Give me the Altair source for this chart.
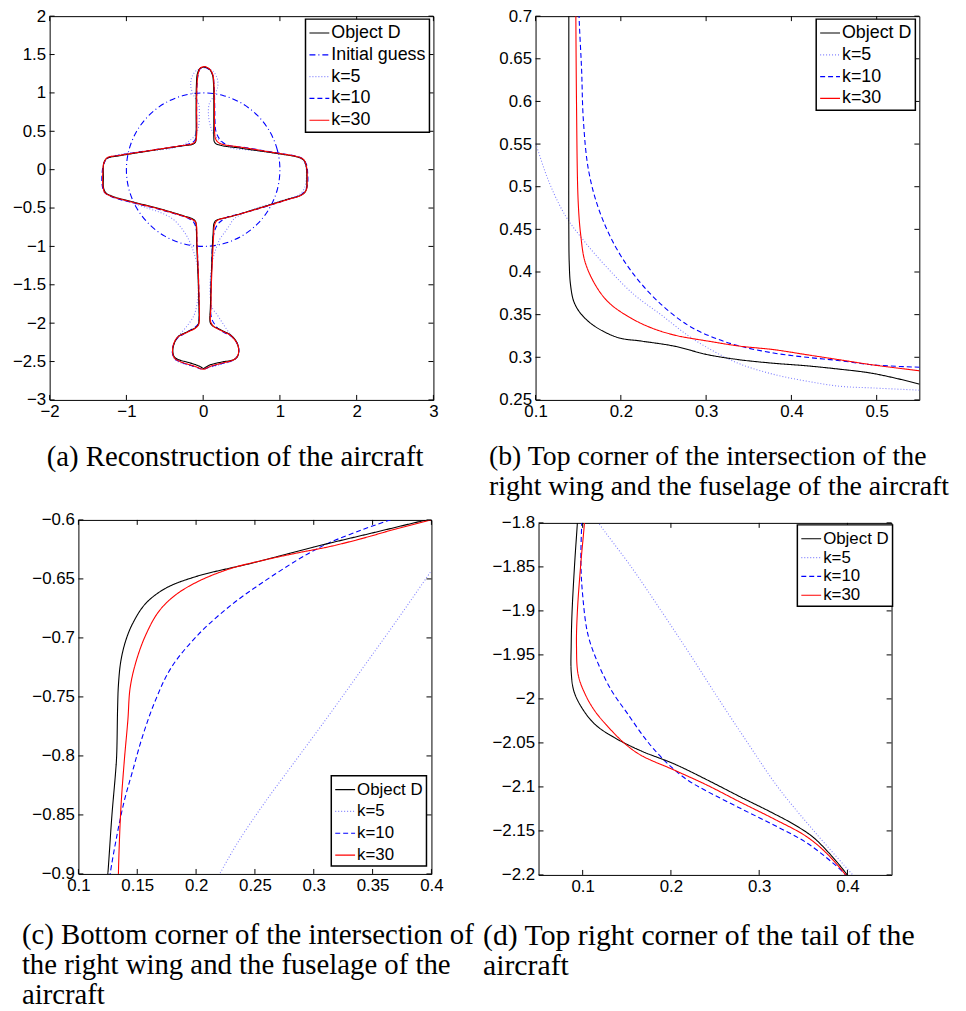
import altair as alt
import pandas as pd

# ---------------- (a) whole aircraft ----------------
A_OBJECT_D = [[0.02,1.34],[0.08,1.31],[0.12,1.24],[0.135,1.12],[0.139,0.9],[0.139,0.6],[0.139,0.42],[0.145,0.365],[0.17,0.336],[0.22,0.319],[0.3,0.303],[0.45,0.286],[0.55,0.27],[0.8,0.235],[1.0,0.205],[1.2,0.172],[1.26,0.155],[1.31,0.125],[1.337,0.066],[1.348,0.0],[1.35,-0.15],[1.345,-0.257],[1.295,-0.322],[1.1,-0.385],[0.9,-0.448],[0.65,-0.525],[0.4,-0.6],[0.26,-0.634],[0.2,-0.648],[0.16,-0.668],[0.14,-0.705],[0.134,-0.75],[0.13,-0.83],[0.125,-0.9],[0.11,-1.3],[0.1,-1.6],[0.094,-1.8],[0.087,-1.95],[0.095,-2.0],[0.13,-2.04],[0.2,-2.073],[0.28,-2.113],[0.34,-2.142],[0.38,-2.175],[0.42,-2.22],[0.45,-2.28],[0.463,-2.36],[0.45,-2.43],[0.4,-2.475],[0.25,-2.505],[0.1,-2.54],[0.03,-2.575],[0.003,-2.59],[-0.03,-2.57],[-0.1,-2.54],[-0.2,-2.51],[-0.32,-2.475],[-0.375,-2.44],[-0.394,-2.38],[-0.385,-2.29],[-0.33,-2.18],[-0.2,-2.11],[-0.1,-2.06],[-0.065,-2.02],[-0.055,-1.97],[-0.06,-1.6],[-0.07,-1.3],[-0.085,-0.95],[-0.09,-0.73],[-0.1,-0.675],[-0.13,-0.645],[-0.26,-0.6],[-0.6,-0.5],[-0.9,-0.425],[-1.2,-0.34],[-1.27,-0.3],[-1.298,-0.235],[-1.3,-0.1],[-1.298,0.066],[-1.28,0.12],[-1.247,0.152],[-1.1,0.18],[-0.7,0.245],[-0.3,0.307],[-0.13,0.333],[-0.1,0.36],[-0.092,0.45],[-0.092,0.8],[-0.088,1.1],[-0.075,1.25],[-0.04,1.32],[0.02,1.34]]
A_K30 = [[0.02,1.345],[0.085,1.31],[0.125,1.24],[0.14,1.12],[0.146,0.9],[0.148,0.6],[0.15,0.48],[0.158,0.412],[0.185,0.365],[0.232,0.336],[0.3,0.319],[0.42,0.303],[0.55,0.284],[0.8,0.242],[1.0,0.21],[1.2,0.176],[1.27,0.155],[1.315,0.125],[1.34,0.066],[1.352,0.0],[1.355,-0.15],[1.345,-0.26],[1.29,-0.325],[1.1,-0.39],[0.9,-0.452],[0.65,-0.528],[0.4,-0.6],[0.31,-0.622],[0.23,-0.641],[0.18,-0.664],[0.157,-0.698],[0.144,-0.742],[0.139,-0.804],[0.134,-0.9],[0.115,-1.3],[0.104,-1.6],[0.102,-1.8],[0.094,-1.9],[0.095,-1.973],[0.114,-2.014],[0.148,-2.051],[0.204,-2.081],[0.278,-2.117],[0.353,-2.156],[0.398,-2.2],[0.44,-2.26],[0.462,-2.33],[0.455,-2.41],[0.41,-2.47],[0.25,-2.52],[0.1,-2.56],[0.0,-2.6],[-0.1,-2.565],[-0.3,-2.5],[-0.37,-2.46],[-0.397,-2.39],[-0.39,-2.29],[-0.34,-2.19],[-0.2,-2.115],[-0.1,-2.065],[-0.06,-2.02],[-0.05,-1.97],[-0.055,-1.6],[-0.065,-1.3],[-0.08,-0.95],[-0.085,-0.74],[-0.1,-0.68],[-0.14,-0.65],[-0.26,-0.605],[-0.6,-0.505],[-0.9,-0.43],[-1.2,-0.345],[-1.28,-0.3],[-1.305,-0.22],[-1.305,0.0],[-1.295,0.08],[-1.25,0.155],[-1.1,0.185],[-0.7,0.248],[-0.3,0.31],[-0.15,0.335],[-0.1,0.37],[-0.085,0.45],[-0.085,0.8],[-0.08,1.1],[-0.065,1.25],[-0.035,1.325],[0.02,1.345]]
A_K10 = [[0.02,1.335],[0.085,1.3],[0.125,1.23],[0.142,1.1],[0.151,0.8],[0.154,0.637],[0.162,0.52],[0.193,0.431],[0.244,0.365],[0.309,0.323],[0.418,0.3],[0.55,0.288],[0.8,0.245],[1.0,0.212],[1.2,0.178],[1.29,0.145],[1.345,0.07],[1.362,-0.05],[1.358,-0.2],[1.32,-0.29],[1.25,-0.34],[1.1,-0.39],[0.9,-0.455],[0.65,-0.53],[0.42,-0.59],[0.342,-0.608],[0.3,-0.626],[0.258,-0.652],[0.202,-0.697],[0.165,-0.754],[0.146,-0.813],[0.127,-0.9],[0.11,-1.3],[0.1,-1.6],[0.099,-1.8],[0.1,-1.882],[0.118,-1.961],[0.151,-2.017],[0.2,-2.077],[0.241,-2.105],[0.316,-2.143],[0.383,-2.186],[0.44,-2.26],[0.465,-2.34],[0.452,-2.42],[0.4,-2.48],[0.25,-2.525],[0.1,-2.565],[0.0,-2.6],[-0.1,-2.57],[-0.3,-2.505],[-0.37,-2.46],[-0.4,-2.39],[-0.39,-2.29],[-0.34,-2.2],[-0.22,-2.12],[-0.1,-2.05],[-0.06,-2.0],[-0.05,-1.9],[-0.055,-1.6],[-0.065,-1.3],[-0.08,-0.95],[-0.09,-0.78],[-0.12,-0.69],[-0.2,-0.63],[-0.35,-0.58],[-0.6,-0.51],[-0.9,-0.435],[-1.2,-0.35],[-1.29,-0.29],[-1.318,-0.18],[-1.312,0.0],[-1.29,0.09],[-1.23,0.16],[-1.1,0.188],[-0.7,0.25],[-0.35,0.3],[-0.2,0.33],[-0.11,0.38],[-0.09,0.5],[-0.085,0.8],[-0.08,1.1],[-0.065,1.24],[-0.035,1.32],[0.02,1.335]]
A_K5 = [[0.02,1.33],[0.12,1.29],[0.18,1.2],[0.19,1.08],[0.14,0.96],[0.08,0.86],[0.07,0.7],[0.1,0.551],[0.135,0.466],[0.185,0.404],[0.247,0.35],[0.309,0.307],[0.379,0.28],[0.457,0.266],[0.55,0.261],[0.8,0.235],[1.0,0.21],[1.2,0.175],[1.29,0.13],[1.335,0.05],[1.345,-0.1],[1.32,-0.24],[1.26,-0.32],[1.1,-0.38],[0.9,-0.44],[0.7,-0.5],[0.55,-0.56],[0.4,-0.643],[0.342,-0.728],[0.286,-0.81],[0.22,-0.9],[0.16,-1.05],[0.12,-1.2],[0.095,-1.4],[0.09,-1.6],[0.1,-1.72],[0.118,-1.8],[0.189,-1.9],[0.254,-2.0],[0.321,-2.1],[0.406,-2.2],[0.45,-2.27],[0.465,-2.35],[0.45,-2.43],[0.4,-2.48],[0.25,-2.53],[0.1,-2.57],[0.0,-2.59],[-0.1,-2.57],[-0.25,-2.53],[-0.36,-2.48],[-0.4,-2.4],[-0.39,-2.3],[-0.33,-2.18],[-0.22,-2.05],[-0.12,-1.9],[-0.08,-1.75],[-0.065,-1.6],[-0.07,-1.3],[-0.1,-1.15],[-0.15,-1.0],[-0.21,-0.87],[-0.3,-0.74],[-0.4,-0.64],[-0.55,-0.56],[-0.7,-0.51],[-0.9,-0.44],[-1.1,-0.38],[-1.25,-0.32],[-1.3,-0.24],[-1.31,-0.1],[-1.3,0.05],[-1.26,0.13],[-1.18,0.175],[-1.0,0.21],[-0.8,0.235],[-0.55,0.26],[-0.4,0.28],[-0.25,0.33],[-0.15,0.4],[-0.09,0.47],[-0.06,0.56],[-0.05,0.7],[-0.06,0.86],[-0.12,0.96],[-0.16,1.08],[-0.15,1.2],[-0.09,1.29],[0.02,1.33]]
A_INITIAL = [[1.0,0.0],[0.966,0.259],[0.866,0.5],[0.707,0.707],[0.5,0.866],[0.259,0.966],[0.0,1.0],[-0.259,0.966],[-0.5,0.866],[-0.707,0.707],[-0.866,0.5],[-0.966,0.259],[-1.0,0.0],[-0.966,-0.259],[-0.866,-0.5],[-0.707,-0.707],[-0.5,-0.866],[-0.259,-0.966],[0.0,-1.0],[0.259,-0.966],[0.5,-0.866],[0.707,-0.707],[0.866,-0.5],[0.966,-0.259]]
A_XTICKS = [-2, -1, 0, 1, 2, 3]
A_YTICKS = [-3, -2.5, -2, -1.5, -1, -0.5, 0, 0.5, 1, 1.5, 2]

# ---------------- (b) top wing/fuselage corner ----------------
B_OBJECT_D = [[0.139,0.75],[0.139,0.6],[0.139,0.45],[0.1395,0.41],[0.141,0.385],[0.145,0.365],[0.154,0.35],[0.17,0.336],[0.197,0.323],[0.224,0.319],[0.263,0.313],[0.302,0.303],[0.34,0.297],[0.379,0.293],[0.418,0.29],[0.457,0.286],[0.49,0.282],[0.52,0.276],[0.56,0.266]]
B_K30 = [[0.147,0.75],[0.148,0.6],[0.15,0.482],[0.153,0.443],[0.158,0.412],[0.17,0.385],[0.185,0.365],[0.205,0.35],[0.232,0.336],[0.263,0.326],[0.302,0.319],[0.34,0.313],[0.379,0.309],[0.418,0.303],[0.457,0.297],[0.496,0.291],[0.56,0.283]]
B_K10 = [[0.15,0.75],[0.151,0.7],[0.154,0.637],[0.156,0.579],[0.162,0.52],[0.174,0.474],[0.193,0.431],[0.216,0.396],[0.244,0.365],[0.278,0.338],[0.309,0.323],[0.34,0.313],[0.379,0.305],[0.418,0.3],[0.457,0.296],[0.496,0.291],[0.56,0.288]]
B_K5 = [[0.09,0.58],[0.1,0.551],[0.116,0.505],[0.135,0.466],[0.158,0.435],[0.185,0.404],[0.216,0.373],[0.247,0.35],[0.278,0.326],[0.309,0.307],[0.34,0.292],[0.379,0.28],[0.418,0.272],[0.457,0.266],[0.496,0.264],[0.56,0.261]]
B_XTICKS = [0.1, 0.2, 0.3, 0.4, 0.5]
B_YTICKS = [0.25, 0.3, 0.35, 0.4, 0.45, 0.5, 0.55, 0.6, 0.65, 0.7]

# ---------------- (c) bottom wing/fuselage corner ----------------
C_OBJECT_D = [[0.124,-0.91],[0.125,-0.9],[0.1285,-0.85],[0.1315,-0.815],[0.1325,-0.8],[0.1333,-0.76],[0.134,-0.74],[0.136,-0.72],[0.14,-0.703],[0.146,-0.688],[0.157,-0.671],[0.174,-0.658],[0.2,-0.648],[0.25,-0.636],[0.3,-0.623],[0.35,-0.611],[0.396,-0.6],[0.41,-0.597]]
C_K30 = [[0.134,-0.91],[0.134,-0.9],[0.136,-0.846],[0.139,-0.804],[0.142,-0.77],[0.144,-0.742],[0.149,-0.72],[0.157,-0.698],[0.168,-0.678],[0.182,-0.664],[0.202,-0.652],[0.23,-0.641],[0.258,-0.634],[0.286,-0.628],[0.314,-0.6225],[0.342,-0.6155],[0.37,-0.6076],[0.4,-0.6]]
C_K10 = [[0.126,-0.91],[0.127,-0.9],[0.133,-0.866],[0.139,-0.838],[0.146,-0.813],[0.154,-0.785],[0.165,-0.754],[0.179,-0.725],[0.202,-0.697],[0.23,-0.672],[0.258,-0.652],[0.286,-0.634],[0.3,-0.626],[0.314,-0.619],[0.342,-0.608],[0.365,-0.6],[0.38,-0.595]]
C_K5 = [[0.214,-0.91],[0.22,-0.9],[0.235,-0.874],[0.258,-0.84],[0.286,-0.802],[0.314,-0.764],[0.342,-0.725],[0.37,-0.686],[0.4,-0.643]]
C_XTICKS = [0.1, 0.15, 0.2, 0.25, 0.3, 0.35, 0.4]
C_YTICKS = [-0.9, -0.85, -0.8, -0.75, -0.7, -0.65, -0.6]

# ---------------- (d) top right corner of the tail ----------------
D_OBJECT_D = [[0.095,-1.78],[0.094,-1.8],[0.091,-1.845],[0.088,-1.901],[0.087,-1.939],[0.087,-1.969],[0.09,-1.991],[0.099,-2.01],[0.114,-2.029],[0.136,-2.044],[0.166,-2.059],[0.204,-2.074],[0.241,-2.092],[0.278,-2.111],[0.316,-2.13],[0.34,-2.143],[0.361,-2.157],[0.379,-2.175],[0.392,-2.19],[0.402,-2.203],[0.41,-2.215]]
D_K30 = [[0.103,-1.78],[0.102,-1.8],[0.098,-1.845],[0.094,-1.901],[0.093,-1.939],[0.095,-1.973],[0.103,-1.995],[0.114,-2.014],[0.129,-2.032],[0.148,-2.051],[0.166,-2.064],[0.204,-2.081],[0.241,-2.098],[0.278,-2.117],[0.316,-2.136],[0.353,-2.156],[0.376,-2.175],[0.398,-2.2],[0.405,-2.21]]
D_K10 = [[0.1,-1.78],[0.099,-1.8],[0.098,-1.845],[0.1,-1.882],[0.106,-1.927],[0.118,-1.961],[0.133,-1.991],[0.151,-2.017],[0.17,-2.044],[0.185,-2.062],[0.2,-2.077],[0.22,-2.093],[0.241,-2.105],[0.278,-2.124],[0.316,-2.143],[0.353,-2.163],[0.383,-2.186],[0.398,-2.2],[0.405,-2.21]]
D_K5 = [[0.112,-1.79],[0.118,-1.8],[0.155,-1.85],[0.189,-1.9],[0.222,-1.95],[0.254,-2.0],[0.287,-2.05],[0.321,-2.1],[0.362,-2.15],[0.406,-2.2],[0.415,-2.21]]
D_XTICKS = [0.1, 0.2, 0.3, 0.4]
D_YTICKS = [-2.2, -2.15, -2.1, -2.05, -2.0, -1.95, -1.9, -1.85, -1.8]

CAPTION_A = ["(a) Reconstruction of the aircraft"]
CAPTION_B = ["(b) Top corner of the intersection of the", "right wing and the fuselage of the aircraft"]
CAPTION_C = ["(c) Bottom corner of the intersection of", "the right wing and the fuselage of the", "aircraft"]
CAPTION_D = ["(d) Top right corner of the tail of the", "aircraft"]

# ---------------- styles ----------------
COLOR = {"Object D": "#000000", "Initial guess": "#0000ff", "k=5": "#8080ff", "k=10": "#0000ff", "k=30": "#ff0000"}
DASH = {"Object D": [1, 0], "Initial guess": [6, 3, 1, 3], "k=5": [1, 2], "k=10": [5, 3], "k=30": [1, 0]}
SANS = "Liberation Sans"
SERIF = "Liberation Serif"
TICK = 5


def to_df(name, pts):
    return pd.DataFrame({"series": name, "i": list(range(len(pts))),
                         "x": [p[0] for p in pts], "y": [p[1] for p in pts]})


def panel(curves, order, xdom, ydom, xticks, yticks, w, h, lx, ly, lfs, rowpad,
          caption, cap_dx, cap_off, cap_size, closed=None):
    def X():
        return alt.X("x:Q", title=None,
                     scale=alt.Scale(domain=xdom, nice=False, zero=False),
                     axis=alt.Axis(values=xticks, format="~g", ticks=False, domain=False, grid=False,
                                   labelPadding=4, labelFontSize=17, labelFont=SANS, labelColor="black",
                                   labelFlush=False, labelOverlap=False))

    def Y():
        return alt.Y("y:Q", title=None,
                     scale=alt.Scale(domain=ydom, nice=False, zero=False),
                     axis=alt.Axis(values=yticks, format="~g", ticks=False, domain=False, grid=False,
                                   labelPadding=4, labelFontSize=17, labelFont=SANS, labelColor="black",
                                   labelFlush=False, labelOverlap=False))

    leg = alt.Legend(title=None, orient="none", legendX=lx, legendY=ly, labelFontSize=lfs,
                     labelFont=SANS, labelColor="black", symbolType="stroke", symbolSize=400,
                     symbolStrokeWidth=1.2, labelOffset=1, padding=3, rowPadding=rowpad,
                     fillColor="white", strokeColor="black")
    color = alt.Color("series:N", scale=alt.Scale(domain=order, range=[COLOR[s] for s in order]), legend=leg)
    dash = alt.StrokeDash("series:N", scale=alt.Scale(domain=order, range=[DASH[s] for s in order]), legend=leg)

    layers = []
    if closed is not None:
        name, pts = closed
        layers.append(alt.Chart(to_df(name, pts)).mark_line(
            clip=True, interpolate="cardinal-closed", strokeWidth=1.1).encode(
            x=X(), y=Y(), color=color, strokeDash=dash, order="i:Q"))
    for name, pts in curves:
        layers.append(alt.Chart(to_df(name, pts)).mark_line(
            clip=True, interpolate="catmull-rom", strokeWidth=1.1).encode(
            x=X(), y=Y(), color=color, strokeDash=dash, order="i:Q"))

    xt = pd.DataFrame({"x": xticks})
    yt = pd.DataFrame({"y": yticks})
    rule = dict(color="black", strokeWidth=1)
    layers.append(alt.Chart(xt).mark_rule(**rule).encode(x=X(), y=alt.value(h), y2=alt.value(h - TICK)))
    layers.append(alt.Chart(xt).mark_rule(**rule).encode(x=X(), y=alt.value(0), y2=alt.value(TICK)))
    layers.append(alt.Chart(yt).mark_rule(**rule).encode(y=Y(), x=alt.value(0), x2=alt.value(TICK)))
    layers.append(alt.Chart(yt).mark_rule(**rule).encode(y=Y(), x=alt.value(w), x2=alt.value(w - TICK)))

    return alt.layer(*layers).properties(
        width=w, height=h,
        title=alt.TitleParams(text=caption, orient="bottom", anchor="start", frame="group",
                              dx=cap_dx, offset=cap_off, font=SERIF, fontSize=cap_size,
                              fontWeight="normal", color="black", lineHeight=30))


def spacer(w, h):
    return alt.Chart(pd.DataFrame({"v": [0]})).mark_point(opacity=0).encode(
        x=alt.value(0), y=alt.value(0)).properties(
        width=w, height=h, view=alt.ViewBackground(stroke="transparent"))


def indep(c):
    return c.resolve_scale(color="independent", strokeDash="independent").resolve_legend(
        color="independent", strokeDash="independent")


ORDER4 = ["Object D", "k=5", "k=10", "k=30"]

pa = panel([("k=5", A_K5), ("k=10", A_K10), ("Object D", A_OBJECT_D), ("k=30", A_K30)],
           ["Object D", "Initial guess", "k=5", "k=10", "k=30"],
           [-2, 3], [-3, 2], A_XTICKS, A_YTICKS, 387, 387, 258, 3, 18, 2,
           CAPTION_A, -3, 24, 29, closed=("Initial guess", A_INITIAL))
pb = panel([("k=5", B_K5), ("k=10", B_K10), ("Object D", B_OBJECT_D), ("k=30", B_K30)],
           ORDER4, [0.1, 0.55], [0.25, 0.7], B_XTICKS, B_YTICKS, 387, 387, 283, 3, 18, 2,
           CAPTION_B, -47, 24, 28)
pc = panel([("k=5", C_K5), ("k=10", C_K10), ("Object D", C_OBJECT_D), ("k=30", C_K30)],
           ORDER4, [0.1, 0.4], [-0.9, -0.6], C_XTICKS, C_YTICKS, 356, 357, 255, 258, 17, 3,
           CAPTION_C, -57, 28, 29)
pd_ = panel([("k=5", D_K5), ("k=10", D_K10), ("Object D", D_OBJECT_D), ("k=30", D_K30)],
            ORDER4, [0.05, 0.45], [-2.2, -1.8], D_XTICKS, D_YTICKS, 356, 355, 261, 2, 17, 0,
            CAPTION_D, -56, 27, 30)

row1 = indep(alt.hconcat(pa, pb, spacing=103, bounds="flush"))
col_d = indep(alt.vconcat(spacer(10, 3), pd_, spacing=0, bounds="flush"))
row2 = indep(alt.hconcat(spacer(29, 10), pc, spacer(108, 10), col_d, spacing=0, bounds="flush"))

# nested concat groups count as zero-size under flush bounds, so the row gap
# includes the height of the first row (387) plus the visible gap
chart = indep(alt.vconcat(row1, row2, spacing=508, bounds="flush")).properties(
    autosize=alt.AutoSizeParams(type="none"),
    padding={"left": 42, "top": 4, "right": 916, "bottom": 999},
).configure_view(stroke="black", strokeWidth=1).configure_legend(strokeWidth=1.5)

chart.save("out.html", embed_options={"renderer": "svg", "actions": False})
